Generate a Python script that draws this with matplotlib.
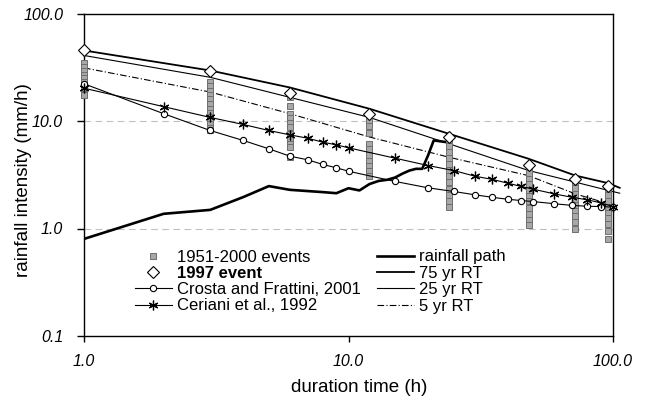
import matplotlib
matplotlib.use("Agg")
import matplotlib.pyplot as plt
from matplotlib.ticker import FixedLocator, NullLocator, FixedFormatter

plt.rcParams['font.family'] = ['Liberation Sans', 'DejaVu Sans']

# ---------------- data ----------------
event_durations = [1, 3, 6, 12, 24, 48, 72, 96]
events_d1 = [35, 32, 29, 27, 25, 23, 21, 19.5, 18, 17.3]
events_d3 = [23, 21, 19, 17.5, 16, 14.5, 13, 11.8, 10.8, 10, 9.3, 8.7, 8.2]
events_d6 = [16.6, 13.9, 11.7, 10.6, 9.6, 8.77, 7.6, 6.83, 6.13, 5.7, 4.67]
events_d12 = [10.1, 9.06, 7.69, 6.13, 5.51, 4.78, 4.29, 3.85, 3.46, 3.11]
events_d24 = [6.59, 5.9, 5.1, 4.5, 4.0, 3.5, 3.05, 2.7, 2.35, 2.05, 1.82, 1.58]
events_d48 = [3.7, 3.3, 2.9, 2.6, 2.3, 2.0, 1.8, 1.55, 1.35, 1.2, 1.07]
events_d72 = [2.7, 2.4, 2.1, 1.85, 1.65, 1.45, 1.3, 1.15, 1.0]
events_d96 = [2.34, 2.05, 1.8, 1.6, 1.4, 1.25, 1.1, 0.95, 0.8]

event1997 = [45.3, 29.1, 18.3, 11.7, 7.07, 3.91, 2.86, 2.51]

threshold_durations = [1, 2, 3, 4, 5, 6, 7, 8, 9, 10, 15, 20, 25, 30, 35, 40,
                       45, 50, 60, 70, 80, 90, 100]
crosta_frattini = [22.2, 11.7, 8.16, 6.59, 5.51, 4.71, 4.36, 3.94, 3.67, 3.41,
                   2.74, 2.39, 2.21, 2.06, 1.95, 1.87, 1.82, 1.78, 1.70, 1.64,
                   1.61, 1.60, 1.58]
ceriani = [20.2, 13.6, 10.8, 9.28, 8.16, 7.43, 6.92, 6.35, 6.0, 5.63, 4.51,
           3.85, 3.46, 3.07, 2.86, 2.64, 2.46, 2.32, 2.10, 1.95, 1.85, 1.73, 1.60]

path_durations = list(range(1, 25))
rainfall_path = [0.80, 1.37, 1.49, 1.96, 2.48, 2.29, 2.23, 2.18, 2.13, 2.37,
                 2.26, 2.59, 2.77, 2.84, 2.98, 3.24, 3.46, 3.59, 3.59, 4.8,
                 6.6, 6.5, 6.4, 6.35]

rt_durations = [1, 3, 6, 12, 24, 48, 72, 96, 106]
rt75 = [45.3, 29.5, 20.5, 13.0, 7.6, 4.45, 3.11, 2.64, 2.39]
rt25 = [40.7, 25.5, 16.6, 10.8, 6.14, 3.46, 2.70, 2.26, 2.13]
rt5_durations = [1, 3, 6, 12, 24, 48, 72, 96, 103]
rt5 = [31.2, 18.6, 11.7, 7.1, 4.6, 3.1, 2.1, 1.70, 1.64]

xticks = [1, 10, 100]
xtick_labels = ["1.0", "10.0", "100.0"]
yticks = [0.1, 1, 10, 100]
ytick_labels = ["0.1", "1.0", "10.0", "100.0"]

# ---------------- figure ----------------
fig = plt.figure(figsize=(6.46, 4.03), dpi=100)
ax = fig.add_axes([84/646, 1-336/403, (613-84)/646, (336-13.5)/403])
ax.set_xscale('log')
ax.set_yscale('log')
ax.set_xlim(1, 100)
ax.set_ylim(0.1, 100)

for y in [1, 10]:
    ax.axhline(y, color='#c0c0c0', lw=0.8, ls=(0, (6, 4)), zorder=0)

# event squares
cols = [events_d1, events_d3, events_d6, events_d12, events_d24,
        events_d48, events_d72, events_d96]
sq_handle = None
for d, vals in zip(event_durations, cols):
    h, = ax.plot([d]*len(vals), vals, ls='none', marker='s', ms=4.2,
                 mfc='#a8a8a8', mec='#6e6e6e', mew=0.7, zorder=4, clip_on=False)
    sq_handle = h
sq_handle.set_label('1951-2000 events')

lp, = ax.plot(path_durations, rainfall_path, color='black', lw=1.9,
              label='rainfall path', zorder=3)
l75, = ax.plot(rt_durations, rt75, color='black', lw=1.3, label='75 yr RT',
               zorder=3, clip_on=False)
l25, = ax.plot(rt_durations, rt25, color='black', lw=0.8, label='25 yr RT',
               zorder=3, clip_on=False)
l5, = ax.plot(rt5_durations, rt5, color='black', lw=0.8,
              ls=(0, (6, 2, 1, 2)), label='5 yr RT', zorder=3, clip_on=False)

lcf, = ax.plot(threshold_durations, crosta_frattini, color='black', lw=0.8,
               marker='o', ms=4.5, mfc='white', mec='black', mew=0.8,
               label='Crosta and Frattini, 2001', zorder=5, clip_on=False)
lce, = ax.plot(threshold_durations, ceriani, color='black', lw=0.8,
               marker=(6, 2, 0), ms=7, mec='black', mew=0.9,
               label='Ceriani et al., 1992', zorder=5, clip_on=False)

ld, = ax.plot(event_durations, event1997, ls='none', marker='D', ms=6.5,
              mfc='white', mec='black', mew=0.8, label='1997 event', zorder=6,
              clip_on=False)

# axes styling
for s in ax.spines.values():
    s.set_color('black')
    s.set_linewidth(1.0)
ax.xaxis.set_major_locator(FixedLocator(xticks))
ax.xaxis.set_major_formatter(FixedFormatter(xtick_labels))
ax.xaxis.set_minor_locator(NullLocator())
ax.yaxis.set_major_locator(FixedLocator(yticks))
ax.yaxis.set_major_formatter(FixedFormatter(ytick_labels))
ax.yaxis.set_minor_locator(NullLocator())
ax.tick_params(axis='x', direction='out', length=4, width=1, pad=9,
               labelsize=11.5)
ax.tick_params(axis='y', direction='out', length=5, width=1, pad=10,
               labelsize=11.5)
for t in ax.get_xticklabels() + ax.get_yticklabels():
    t.set_fontstyle('italic')

fig.text(359/646, 1-388/403, 'duration time (h)', ha='center', va='center',
         fontsize=13.5)
fig.text(24/646, 1-180/403, 'rainfall intensity (mm/h)', ha='center',
         va='center', rotation=90, fontsize=13.5)

handles = [sq_handle, ld, lcf, lce, lp, l75, l25, l5]
labels = [h.get_label() for h in handles]
leg = ax.legend(handles, labels, ncol=2, loc='upper left',
                bbox_to_anchor=(135/646, 1-249.5/403),
                bbox_transform=fig.transFigure, frameon=False,
                fontsize=12, borderpad=0, borderaxespad=0,
                handlelength=2.2, handletextpad=0.3, columnspacing=1.0,
                labelspacing=0.08)
leg.get_texts()[1].set_fontweight('bold')

fig.savefig('out.png', dpi=100)
